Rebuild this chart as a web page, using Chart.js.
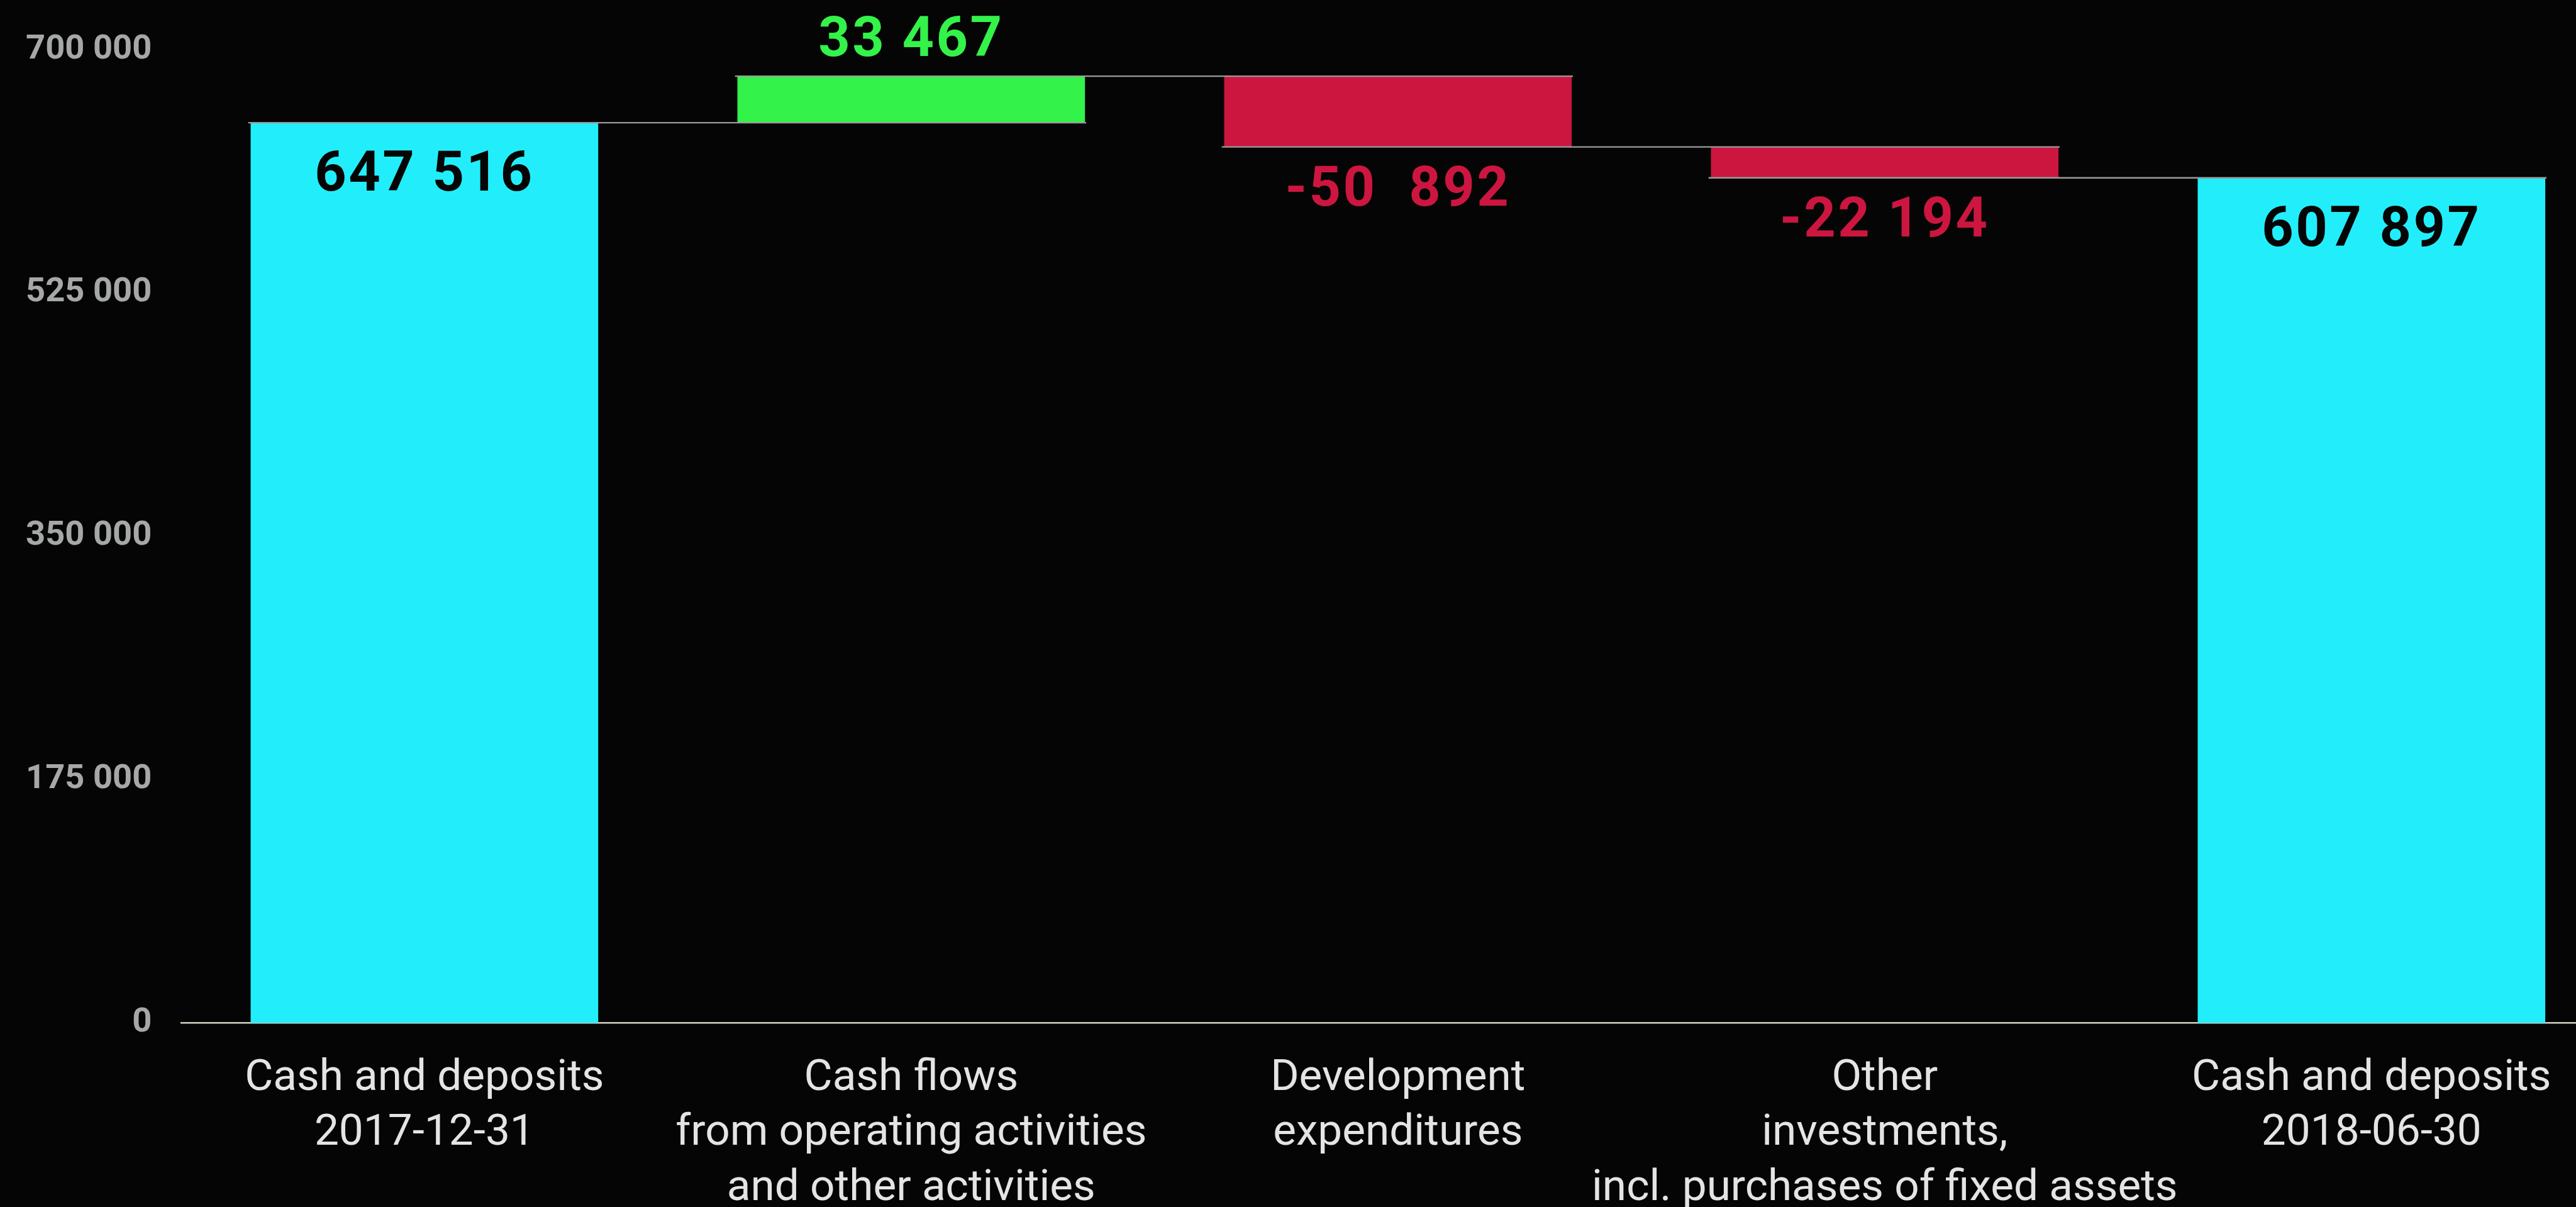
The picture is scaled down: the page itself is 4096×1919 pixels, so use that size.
<!DOCTYPE html>
<html><head><meta charset="utf-8">
<script src="https://cdn.jsdelivr.net/npm/chart.js@4"></script>
<style>
html,body{margin:0;padding:0;background:#050505;overflow:hidden;width:4096px;height:1919px}
#wrap{position:absolute;left:0;top:0;width:4200px;height:1919px}
canvas{display:block}
</style></head><body>
<div id="wrap"><canvas id="c" width="4200" height="1919"></canvas></div>
<script>
// ---- data ----
const categories = [
  ["Cash and deposits", "2017-12-31"],
  ["Cash flows", "from operating activities", "and other activities"],
  ["Development", "expenditures"],
  ["Other", "investments,", "incl. purchases of fixed assets"],
  ["Cash and deposits", "2018-06-30"]
];
const values = [647516, 33467, -50892, -22194, 607897];
const isTotal = [true, false, false, false, true];
const valueLabels = ["647 516", "33 467", "-50  892", "-22 194", "607 897"];
const yTickValues = [0, 175000, 350000, 525000, 700000];

// ---- styling ----
const S = 4096 / 4226;
const COL_TOTAL = '#22EEFB', COL_POS = '#33F24A', COL_NEG = '#CC1640';

// build floating ranges
let running = 0;
const ranges = [], levels = [];
values.forEach((v, i) => {
  if (isTotal[i]) { ranges.push([0, v]); running = v; }
  else { const a = running, b = running + v; ranges.push([Math.min(a, b), Math.max(a, b)]); running = b; }
  levels.push(running);
});
const colors = values.map((v, i) => isTotal[i] ? COL_TOTAL : (v >= 0 ? COL_POS : COL_NEG));

function fmt(v) { return String(v).replace(/\B(?=(\d{3})+(?!\d))/g, ' '); }

const decor = {
  id: 'decor',
  afterDatasetsDraw(chart) {
    const ctx = chart.ctx, y = chart.scales.y, meta = chart.getDatasetMeta(0);
    ctx.save();
    // connectors
    ctx.strokeStyle = '#9b9b9b';
    ctx.lineWidth = 2.5 * S;
    for (let i = 0; i < values.length - 1; i++) {
      const a = meta.data[i], b = meta.data[i + 1];
      const py = y.getPixelForValue(levels[i]);
      ctx.beginPath();
      ctx.moveTo(a.x - a.width / 2 - 4 * S, py);
      ctx.lineTo(b.x + b.width / 2 + 2 * S, py);
      ctx.stroke();
    }
    // value labels
    ctx.font = 'bold ' + (91 * S) + 'px Roboto';
    ctx.letterSpacing = (3.5 * S) + 'px';
    ctx.textAlign = 'center';
    ctx.textBaseline = 'alphabetic';
    values.forEach((v, i) => {
      const el = meta.data[i];
      const top = y.getPixelForValue(ranges[i][1]);
      const bot = y.getPixelForValue(ranges[i][0]);
      let py, col;
      if (isTotal[i]) { py = top + 111.5 * S; col = '#050505'; }
      else if (v >= 0) { py = top - 33.3 * S; col = COL_POS; }
      else { py = bot + 96.5 * S; col = COL_NEG; }
      ctx.fillStyle = col;
      ctx.fillText(valueLabels[i], el.x, py);
    });
    ctx.restore();
  }
};

new Chart(document.getElementById('c'), {
  type: 'bar',
  data: {
    labels: categories,
    datasets: [{
      data: ranges,
      backgroundColor: colors,
      borderWidth: 0,
      categoryPercentage: 1,
      barPercentage: 0.714
    }]
  },
  options: {
    responsive: false,
    devicePixelRatio: 1,
    animation: false,
    layout: { padding: { left: 0, right: 4200 - 4289.75 * S, top: 79 * S, bottom: 0 } },
    plugins: { legend: { display: false }, tooltip: { enabled: false } },
    scales: {
      x: {
        grid: { display: false, drawTicks: false },
        border: { display: true, color: '#d4d4c8', width: 2.6 * S },
        ticks: {
          color: '#e4e4e4',
          font: { family: 'Roboto', size: 71.5 * S, lineHeight: 1.266 },
          padding: 45,
          maxRotation: 0,
          autoSkip: false
        },
        afterFit(s) { s.height = 1919 - 1678 * S; }
      },
      y: {
        min: 0, max: 700000,
        afterBuildTicks(s) { s.ticks = yTickValues.map(v => ({ value: v })); },
        grid: { display: false, drawTicks: false },
        border: { display: false },
        ticks: {
          color: '#a5a8a7',
          font: { family: 'Roboto', weight: 'bold', size: 56 * S },
          padding: 48 * S,
          callback: v => fmt(v)
        },
        afterFit(s) { s.width = 297 * S; }
      }
    }
  },
  plugins: [decor]
});
</script>
</body></html>
